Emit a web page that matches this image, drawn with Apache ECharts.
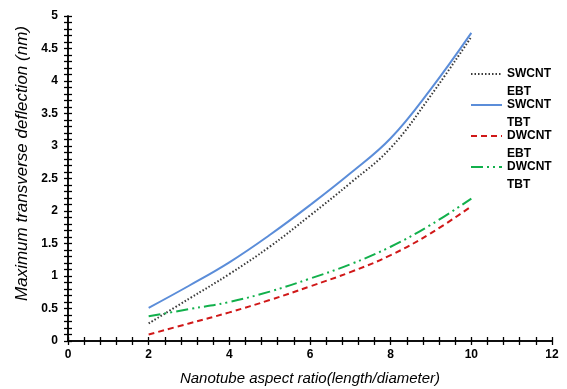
<!DOCTYPE html>
<html>
<head>
<meta charset="utf-8">
<script src="https://cdn.jsdelivr.net/npm/echarts@6/dist/echarts.min.js"></script>
<style>html,body{margin:0;padding:0;background:#fff}#c{width:567px;height:389px}</style>
</head>
<body>
<div id="c"></div>
<script>
var aspectRatio = [2, 3, 4, 5, 6, 7, 8, 9, 10];
var swcntEBT = [0.27, 0.65, 1.03, 1.45, 1.93, 2.43, 2.97, 3.78, 4.68];
var swcntTBT = [0.51, 0.85, 1.21, 1.63, 2.09, 2.58, 3.12, 3.88, 4.74];
var dwcntEBT = [0.10, 0.27, 0.44, 0.63, 0.84, 1.06, 1.32, 1.66, 2.07];
var dwcntTBT = [0.38, 0.49, 0.60, 0.76, 0.96, 1.18, 1.45, 1.79, 2.19];
var seriesNames = ['SWCNT EBT', 'SWCNT TBT', 'DWCNT EBT', 'DWCNT TBT'];
var xTicks = [0, 2, 4, 6, 8, 10, 12];
var yTicks = [0, 0.5, 1, 1.5, 2, 2.5, 3, 3.5, 4, 4.5, 5];

function pairs(ys){ return aspectRatio.map(function(x,i){ return [x, ys[i]]; }); }

var chart = echarts.init(document.getElementById('c'));
function xAx(inside, show){
  return {type:'value', min:xTicks[0], max:xTicks[xTicks.length-1], interval:2, position:'bottom',
    name: show ? 'Nanotube aspect ratio(length/diameter)' : '', nameLocation:'middle', nameGap:30,
    nameTextStyle:{fontFamily:'Liberation Sans', fontStyle:'italic', fontSize:15, color:'#000'},
    axisLine:{show:true, onZero:false, lineStyle:{color:'#000', width:1.5}},
    axisTick:{show:true, inside:inside, length:4, lineStyle:{color:'#000', width:1.3}},
    minorTick:{show:true, splitNumber:5, length:4, lineStyle:{color:'#000', width:1.3}},
    axisLabel:{show:show, margin:8, fontFamily:'Liberation Sans', fontWeight:'bold', fontSize:12, color:'#000'},
    splitLine:{show:false}};
}
function yAx(inside, show){
  return {type:'value', min:yTicks[0], max:yTicks[yTicks.length-1], interval:0.5, position:'left',
    name: show ? 'Maximum transverse deflection (nm)' : '', nameLocation:'middle', nameGap:37,
    nameTextStyle:{fontFamily:'Liberation Sans', fontStyle:'italic', fontSize:17, color:'#000', padding:[0,0,0,30]},
    axisLine:{show:true, onZero:false, lineStyle:{color:'#000', width:1.5}},
    axisTick:{show:true, inside:inside, length:4, lineStyle:{color:'#000', width:1.3}},
    minorTick:{show:true, splitNumber:5, length:4, lineStyle:{color:'#000', width:1.3}},
    axisLabel:{show:show, margin:10, fontFamily:'Liberation Sans', fontWeight:'bold', fontSize:12, color:'#000'},
    splitLine:{show:false}};
}
var styles = [
  {color:'#3a3a3a', width:2, type:[1.5,2]},
  {color:'#5B8DD9', width:2, type:'solid'},
  {color:'#D01818', width:2, type:[6,4]},
  {color:'#12B04C', width:2, type:[12,4,2,4,2,4]}
];
var dataSets = [swcntEBT, swcntTBT, dwcntEBT, dwcntTBT];
var series = dataSets.map(function(d,i){
  return {name:seriesNames[i], type:'line', data:pairs(d), smooth:0.4, symbol:'none',
    xAxisIndex:0, yAxisIndex:0, lineStyle:styles[i], itemStyle:{color:styles[i].color}};
});
chart.setOption({
  animation:false,
  backgroundColor:'#fff',
  grid:{left:68, right:15, top:16, bottom:48, containLabel:false, outerBoundsMode:'none'},
  legend:{orient:'vertical', left:470, top:47, padding:0, itemGap:-23, itemWidth:31, itemHeight:10,
    data:seriesNames,
    itemStyle:{opacity:0},
    formatter:function(n){ return '\n' + n.replace(' ', '\n'); },
    textStyle:{fontFamily:'Liberation Sans', fontWeight:'bold', fontSize:12, color:'#000', lineHeight:18}},
  xAxis:[xAx(false,true), xAx(true,false)],
  yAxis:[yAx(false,true), yAx(true,false)],
  series:series
});
</script>
</body>
</html>
